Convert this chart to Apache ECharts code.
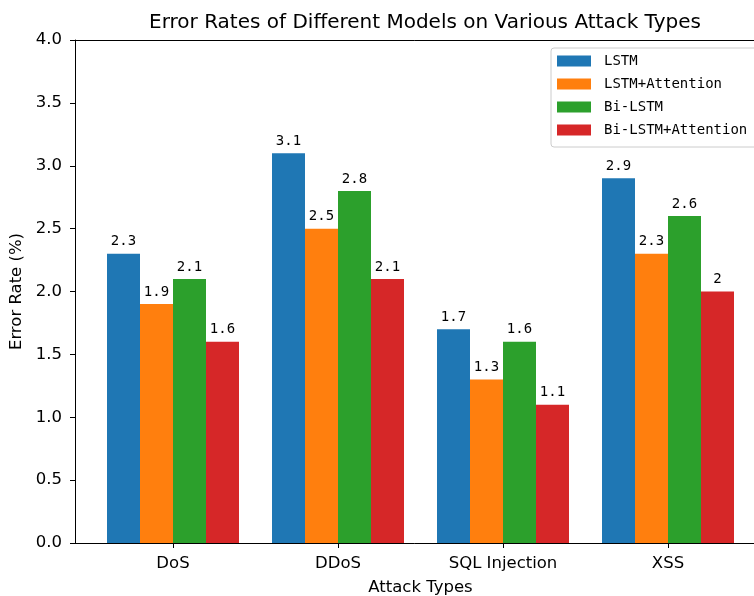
<!DOCTYPE html>
<html>
<head>
<meta charset="utf-8">
<script src="https://cdn.jsdelivr.net/npm/echarts@6/dist/echarts.min.js"></script>
<style>
  html, body { margin: 0; padding: 0; background: #fff; }
  #chart { width: 754px; height: 596px; }
</style>
</head>
<body>
<div id="chart"></div>
<script>
// data
var attackTypes = ["DoS", "DDoS", "SQL Injection", "XSS"];
var modelNames = ["LSTM", "LSTM+Attention", "Bi-LSTM", "Bi-LSTM+Attention"];
var lstm = [2.3, 3.1, 1.7, 2.9];
var lstmAtt = [1.9, 2.5, 1.3, 2.3];
var biLstm = [2.1, 2.8, 1.6, 2.6];
var biLstmAtt = [1.6, 2.1, 1.1, 2.0];
var yTicks = [0, 0.5, 1.0, 1.5, 2.0, 2.5, 3.0, 3.5, 4.0];

var colors = ["#1f77b4", "#ff7f0e", "#2ca02c", "#d62728"];
var seriesValues = [lstm, lstmAtt, biLstm, biLstmAtt];
var labelFont = "DejaVu Sans Mono";
var mainFont = "DejaVu Sans";

var myChart = echarts.init(document.getElementById("chart"));

var series = seriesValues.map(function (vals, i) {
  return {
    name: modelNames[i],
    type: "bar",
    xAxisIndex: 1,
    yAxisIndex: 1,
    data: vals,
    barGap: "0%",
    barCategoryGap: "20%",
    itemStyle: { color: colors[i] },
    label: {
      show: true,
      position: "top",
      distance: 5,
      color: "#000",
      fontFamily: labelFont,
      fontSize: 14,
      formatter: function (p) { return String(p.value); }
    }
  };
});

myChart.setOption({
  animation: false,
  title: {
    text: "Error Rates of Different Models on Various Attack Types",
    left: 420,
    textAlign: "center",
    top: 8,
    textStyle: { fontFamily: mainFont, fontSize: 20, fontWeight: "normal", color: "#000" }
  },
  legend: {
    orient: "vertical",
    left: 551,
    top: 48,
    itemWidth: 34,
    itemHeight: 11,
    itemGap: 9,
    padding: [6, 14, 10, 6],
    borderColor: "#cccccc",
    borderWidth: 1,
    borderRadius: 3,
    icon: "rect",
    data: modelNames,
    textStyle: { fontFamily: labelFont, fontSize: 14, color: "#000", padding: [0, 0, 0, 8] }
  },
  grid: [
    { left: 75, right: -11, top: 40, bottom: 53, containLabel: false, outerBoundsMode: "none" },
    { left: 90.5, right: 3.5, top: 40, bottom: 53, containLabel: false, outerBoundsMode: "none" }
  ],
  xAxis: [
    {
      gridIndex: 0, type: "value", min: 0, max: 1, position: "bottom",
      axisLine: { show: true, lineStyle: { color: "#000", width: 1 } }, axisTick: { show: false },
      axisLabel: { show: false }, splitLine: { show: false }
    },
    {
      gridIndex: 1, type: "category", data: attackTypes,
      axisLine: { show: false },
      axisTick: { show: true, alignWithLabel: true, length: 5, lineStyle: { color: "#000" } },
      axisLabel: { color: "#000", fontFamily: mainFont, fontSize: 16.5, margin: 12 },
      name: "Attack Types",
      nameLocation: "middle",
      nameGap: 36,
      nameTextStyle: { color: "#000", fontFamily: mainFont, fontSize: 16.5 }
    },
    {
      gridIndex: 0, type: "value", min: 0, max: 1, position: "top",
      axisLine: { show: true, lineStyle: { color: "#000", width: 1 } }, axisTick: { show: false },
      axisLabel: { show: false }, splitLine: { show: false }
    }
  ],
  yAxis: [
    {
      gridIndex: 0, type: "value", min: yTicks[0], max: yTicks[yTicks.length - 1], interval: 0.5,
      axisLine: { show: true, lineStyle: { color: "#000", width: 1 } },
      axisTick: { show: true, length: 5, lineStyle: { color: "#000" } },
      axisLabel: { color: "#000", fontFamily: mainFont, fontSize: 16.5, margin: 13,
        formatter: function (v) { return v.toFixed(1); } },
      splitLine: { show: false },
      name: "Error Rate (%)",
      nameLocation: "middle",
      nameGap: 43,
      nameTextStyle: { color: "#000", fontFamily: mainFont, fontSize: 16.5 }
    },
    {
      gridIndex: 1, type: "value", min: yTicks[0], max: yTicks[yTicks.length - 1],
      show: false
    }
  ],
  series: series
});

window.addEventListener("resize", function () {
  myChart.resize();
});
</script>
</body>
</html>
